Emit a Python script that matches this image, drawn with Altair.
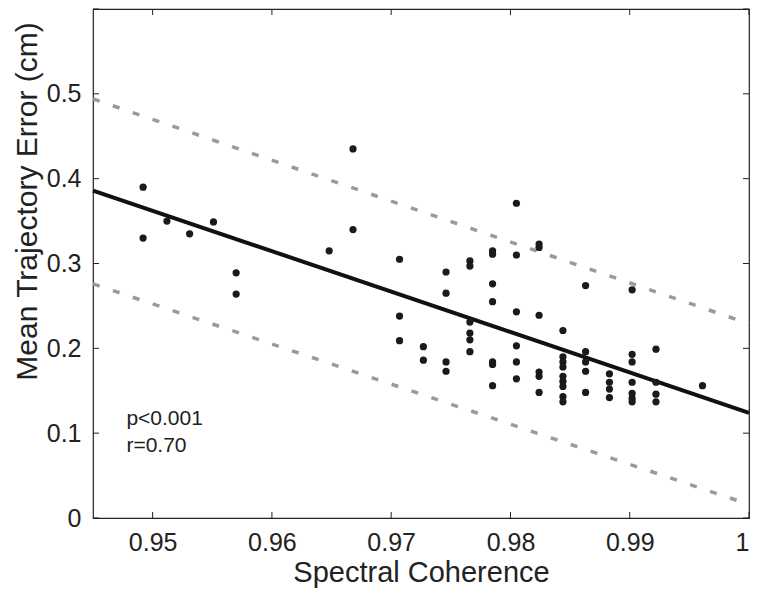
import altair as alt
import pandas as pd

# ---------------- data ----------------
coh = [0.9492, 0.9492,
       0.9512,
       0.9531,
       0.9551,
       0.9570, 0.9570,
       0.9648,
       0.9668, 0.9668,
       0.9707, 0.9707, 0.9707,
       0.9727, 0.9727,
       0.9746, 0.9746, 0.9746, 0.9746,
       0.9766, 0.9766, 0.9766, 0.9766, 0.9766, 0.9766,
       0.9785, 0.9785, 0.9785, 0.9785, 0.9785, 0.9785, 0.9785,
       0.9805, 0.9805, 0.9805, 0.9805, 0.9805, 0.9805,
       0.9824, 0.9824, 0.9824, 0.9824, 0.9824, 0.9824,
       0.9844, 0.9844, 0.9844, 0.9844, 0.9844, 0.9844, 0.9844, 0.9844, 0.9844,
       0.9863, 0.9863, 0.9863, 0.9863, 0.9863,
       0.9883, 0.9883, 0.9883, 0.9883,
       0.9902, 0.9902, 0.9902, 0.9902, 0.9902, 0.9902, 0.9902,
       0.9922, 0.9922, 0.9922, 0.9922,
       0.9961]
err = [0.390, 0.330,
       0.350,
       0.335,
       0.349,
       0.289, 0.264,
       0.315,
       0.435, 0.340,
       0.305, 0.238, 0.209,
       0.202, 0.186,
       0.290, 0.265, 0.184, 0.173,
       0.303, 0.297, 0.231, 0.218, 0.210, 0.196,
       0.315, 0.311, 0.276, 0.255, 0.184, 0.181, 0.156,
       0.371, 0.310, 0.243, 0.203, 0.184, 0.164,
       0.323, 0.319, 0.239, 0.172, 0.167, 0.148,
       0.221, 0.190, 0.184, 0.178, 0.167, 0.161, 0.155, 0.143, 0.137,
       0.274, 0.196, 0.184, 0.173, 0.148,
       0.170, 0.160, 0.152, 0.142,
       0.269, 0.193, 0.184, 0.160, 0.147, 0.141, 0.137,
       0.199, 0.160, 0.146, 0.137,
       0.156]

line_x = [0.945, 1.0]
fit_y = [0.386, 0.124]
upper_y = [0.494, 0.229]
lower_y = [0.276, 0.016]

x_ticks = [0.95, 0.96, 0.97, 0.98, 0.99, 1.0]
y_ticks = [0.0, 0.1, 0.2, 0.3, 0.4, 0.5, 0.6]
y_label_ticks = [0.0, 0.1, 0.2, 0.3, 0.4, 0.5]

note_text = ["p<0.001", "r=0.70"]
note_x = [0.9478, 0.9478]
note_y = [0.110, 0.078]

x_title = "Spectral Coherence"
y_title = "Mean Trajectory Error (cm)"

# ---------------- chart ----------------
W, H = 656, 509
FONT = "Liberation Sans"
TXT = "#222222"

pts = pd.DataFrame({"coh": coh, "err": err})
lines = pd.DataFrame({
    "coh": line_x * 3,
    "err": fit_y + upper_y + lower_y,
    "kind": ["fit"] * 2 + ["upper"] * 2 + ["lower"] * 2,
})
notes = pd.DataFrame({"coh": note_x, "err": note_y, "t": note_text})
xt = pd.DataFrame({"v": x_ticks})
yt = pd.DataFrame({"v": y_ticks})

xs = alt.Scale(domain=[0.945, 1.0], nice=False, zero=False)
ys = alt.Scale(domain=[0.0, 0.6], nice=False, zero=False)

x_axis = alt.Axis(values=x_ticks, title=x_title, grid=False, domain=False, ticks=False,
                  labelExpr="datum.value == 1 ? '1' : format(datum.value, '.2f')",
                  labelAlign=alt.ExprRef(expr="datum.value == 1 ? 'right' : 'center'"),
                  labelFont=FONT, labelFontSize=25, labelColor=TXT, labelPadding=12,
                  titleFont=FONT, titleFontSize=29, titleFontWeight="normal", titleColor=TXT,
                  titlePadding=3, labelFlush=False)
y_axis = alt.Axis(values=y_label_ticks, title=y_title, grid=False, domain=False, ticks=False,
                  labelExpr="datum.value == 0 ? '0' : format(datum.value, '.1f')",
                  labelFont=FONT, labelFontSize=25, labelColor=TXT, labelPadding=12,
                  titleFont=FONT, titleFontSize=30, titleFontWeight="normal", titleColor=TXT,
                  titlePadding=4, titleY=192, labelFlush=False)

base_pts = alt.Chart(pts).mark_circle(size=52, color="#1a1a1a", opacity=1).encode(
    x=alt.X("coh:Q", scale=xs, axis=x_axis),
    y=alt.Y("err:Q", scale=ys, axis=y_axis),
)

dash = alt.Chart(lines).transform_filter("datum.kind != 'fit'").mark_line(
    color="#9a9a9a", strokeWidth=3.5, strokeDash=[7, 14]
).encode(
    x=alt.X("coh:Q", scale=xs), y=alt.Y("err:Q", scale=ys), detail="kind:N"
)

fit = alt.Chart(lines).transform_filter("datum.kind == 'fit'").mark_line(
    color="#111111", strokeWidth=4
).encode(x=alt.X("coh:Q", scale=xs), y=alt.Y("err:Q", scale=ys))

note = alt.Chart(notes).mark_text(
    align="left", baseline="alphabetic", font=FONT, fontSize=21, color=TXT
).encode(x=alt.X("coh:Q", scale=xs), y=alt.Y("err:Q", scale=ys), text="t:N")

TL = 6
tick_style = dict(color="#222222", strokeWidth=1)
t_bottom = alt.Chart(xt).mark_rule(**tick_style).encode(
    x=alt.X("v:Q", scale=xs), y=alt.value(H), y2=alt.value(H - TL))
t_top = alt.Chart(xt).mark_rule(**tick_style).encode(
    x=alt.X("v:Q", scale=xs), y=alt.value(0), y2=alt.value(TL))
t_left = alt.Chart(yt).mark_rule(**tick_style).encode(
    y=alt.Y("v:Q", scale=ys), x=alt.value(0), x2=alt.value(TL))
t_right = alt.Chart(yt).mark_rule(**tick_style).encode(
    y=alt.Y("v:Q", scale=ys), x=alt.value(W), x2=alt.value(W - TL))

chart = alt.layer(dash, fit, base_pts, note, t_bottom, t_top, t_left, t_right).properties(
    width=W, height=H,
    autosize=alt.AutoSizeParams(type="none"),
    padding={"left": 85, "top": 1, "right": 3, "bottom": 72},
    background="white",
).configure_view(stroke="#222222", strokeWidth=1.2)

chart.save("out.html", embed_options={"renderer": "svg", "actions": False})
